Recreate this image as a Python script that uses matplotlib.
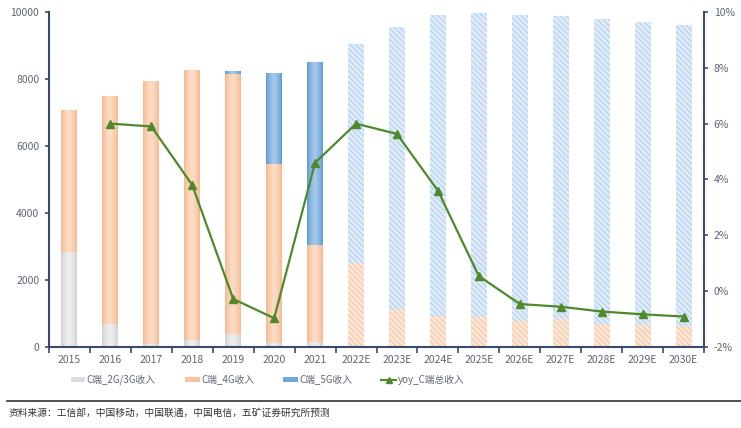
import numpy as np
import matplotlib
matplotlib.use("Agg")
import matplotlib.pyplot as plt
from matplotlib.colors import to_rgb
from matplotlib.lines import Line2D
from matplotlib.patches import Patch

plt.rcParams['font.family'] = ['Noto Sans CJK SC', 'DejaVu Sans']
plt.rcParams['hatch.linewidth'] = 0.7

years = ['2015', '2016', '2017', '2018', '2019', '2020', '2021',
         '2022E', '2023E', '2024E', '2025E', '2026E', '2027E', '2028E',
         '2029E', '2030E']
rev_2g3g = [2850, 700, 90, 210, 390, 130, 150,
            60, 40, 30, 30, 30, 30, 30, 30, 30]
rev_4g = [4230, 6790, 7850, 8030, 7770, 5330, 2900,
          2460, 1060, 900, 870, 760, 820, 670, 630, 610]
rev_5g = [0, 0, 0, 0, 60, 2690, 5460,
          6525, 8450, 8980, 9070, 9120, 9030, 9090, 9040, 8970]
yoy = [None, 6.0, 5.9, 3.8, -0.28, -0.97, 4.6,
       6.0, 5.63, 3.6, 0.54, -0.46, -0.56, -0.73, -0.83, -0.91]
n_actual = 7

AXIS = '#3b4a6b'
TXT = '#5f6575'


def gradient_bar(ax, x, bottom, height, width, edge, center):
    """Fill a bar with a horizontal light-in-the-middle gradient."""
    if height <= 0:
        return
    t = np.abs(np.linspace(-1, 1, 64)) ** 1.5
    e = np.array(to_rgb(edge))
    c = np.array(to_rgb(center))
    row = c[None, :] * (1 - t[:, None]) + e[None, :] * t[:, None]
    img = row[None, :, :]
    ax.imshow(img, extent=(x - width / 2, x + width / 2, bottom, bottom + height),
              aspect='auto', zorder=2, interpolation='bilinear')


def main():
    fig = plt.figure(figsize=(7.41, 4.28), dpi=100)
    ax = fig.add_axes([0.0661, 0.1893, 0.884, 0.7827])
    ax2 = ax.twinx()

    x = np.arange(len(years))
    w = 0.39
    f = slice(n_actual, len(years))
    b4 = np.array(rev_2g3g)
    b5 = b4 + np.array(rev_4g)

    # actual years: solid gradient bars
    styles = [('#d2d2d2', '#eeeeee'), ('#f6b98f', '#fcdcc6'), ('#5b9bd5', '#a4c8ea')]
    for vals, bot, (edge, center) in zip([rev_2g3g, rev_4g, rev_5g],
                                          [np.zeros(len(x)), b4, b5], styles):
        for i in range(n_actual):
            gradient_bar(ax, x[i], bot[i], vals[i], w, edge, center)

    # forecast years: hatched bars
    hatch = '\\\\\\\\\\\\'
    ax.bar(x[f], np.array(rev_2g3g)[f], w, color='#e6e6e6', edgecolor='#cccccc',
           hatch=hatch, linewidth=0, zorder=2)
    ax.bar(x[f], np.array(rev_4g)[f], w, bottom=b4[f], color='#fde6d6',
           edgecolor='#f6c4a2', hatch=hatch, linewidth=0, zorder=2)
    ax.bar(x[f], np.array(rev_5g)[f], w, bottom=b5[f], color='#deebf8',
           edgecolor='#b0cdef', hatch=hatch, linewidth=0, zorder=2)

    ax.set_xlim(-0.5, len(years) - 0.5)
    ax.set_ylim(0, 10000)
    ax.set_yticks(range(0, 10001, 2000))
    ax.set_xticks(x)
    ax.set_xticklabels(years)
    ax.set_xticks(np.arange(-0.5, len(years), 1), minor=True)
    ax.tick_params(axis='x', which='major', length=0, pad=6,
                   labelsize=7.5, labelcolor=TXT)
    ax.tick_params(axis='x', which='minor', length=4, width=1.2,
                   color=AXIS, direction='out')
    ax.tick_params(axis='y', length=3, width=1.2, color=AXIS,
                   labelsize=7.5, labelcolor=TXT, pad=4)

    yy = [v for v in yoy if v is not None]
    ax2.plot(x[1:], yy, color='#4e8a2c', lw=1.6, marker='^', ms=6,
             markeredgecolor='#4e8a2c', zorder=5)
    ax2.set_ylim(-2, 10)
    ax2.set_yticks(range(-2, 11, 2))
    ax2.set_yticklabels([f'{v}%' for v in range(-2, 11, 2)])
    ax2.tick_params(axis='y', length=3, width=1.2, color=AXIS,
                    labelsize=7.5, labelcolor=TXT, pad=4)

    for a_ in (ax, ax2):
        a_.spines['top'].set_visible(False)
        for s in ('left', 'right', 'bottom'):
            a_.spines[s].set_color(AXIS)
            a_.spines[s].set_linewidth(1.5)
    ax.spines['right'].set_visible(False)
    ax2.spines['left'].set_visible(False)
    ax2.spines['bottom'].set_visible(False)

    handles = [Patch(facecolor='#dcdcdc'), Patch(facecolor='#f7c3a1'),
               Patch(facecolor='#6fa8dc'),
               Line2D([], [], color='#4e8a2c', lw=1.6, marker='^', ms=5)]
    labels = ['C端_2G/3G收入', 'C端_4G收入', 'C端_5G收入', 'yoy_C端总收入']
    leg = fig.legend(handles, labels, loc='center', ncol=4,
                     bbox_to_anchor=(0.361, 0.112), frameon=False,
                     fontsize=7, handlelength=1.5, handleheight=0.45,
                     handletextpad=0.15, columnspacing=3.0)
    for t in leg.get_texts():
        t.set_color(TXT)

    fig.add_artist(Line2D([0.01, 1.0], [0.063, 0.063], color='#333333', lw=1.2,
                          transform=fig.transFigure))
    fig.text(0.011, 0.035, '资料来源：工信部，中国移动，中国联通，中国电信，五矿证券研究所预测',
             fontsize=7, color='#333333', va='center')

    fig.savefig('out.png', dpi=100)


if __name__ == '__main__':
    main()
